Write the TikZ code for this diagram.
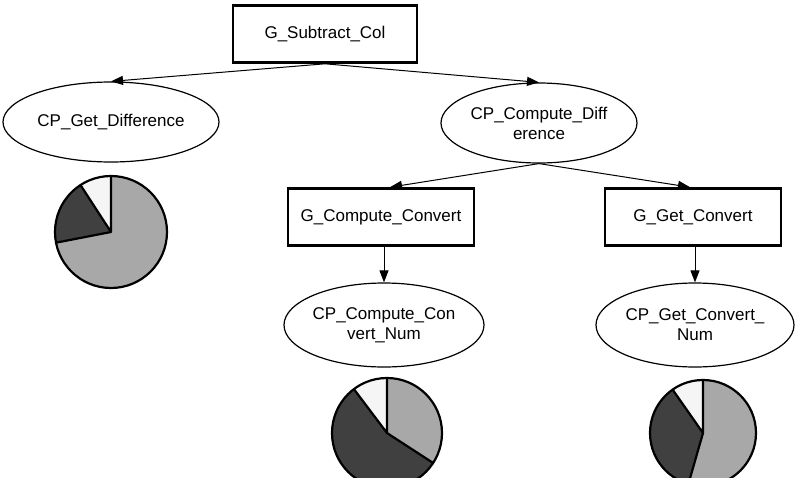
\documentclass[tikz,border=0pt]{standalone}
\usepackage{fontspec}
\setmainfont{Liberation Sans}
\usetikzlibrary{shapes.geometric,arrows.meta}
\definecolor{pielight}{rgb}{0.66,0.66,0.66}
\definecolor{piedark}{rgb}{0.25,0.25,0.25}
\definecolor{piewhite}{rgb}{0.96,0.96,0.96}

\begin{document}
\begin{tikzpicture}[x=1pt,y=1pt,yscale=-1,
  every node/.style={font=\fontsize{17}{20}\selectfont},
  gbox/.style={draw,line width=2.6pt,inner sep=0pt,minimum width=#1,minimum height=57pt},
  cp/.style={draw,ellipse,line width=1.2pt,inner sep=-25pt,align=center,minimum width=#1,minimum height=80pt},
  link/.style={line width=1pt,-{Triangle[length=12pt,width=9pt]}},
  pieline/.style={line width=2.2pt,line join=round}]
\useasboundingbox (0,0) rectangle (801,477);
\clip (0,0) rectangle (801,477);

% Goal boxes
\node[gbox=184pt] (sub) at (325,34) {G\_Subtract\_Col};
\node[gbox=186pt] (compconv) at (381,217) {G\_Compute\_Convert};
\node[gbox=176pt] (getconv) at (693,217) {G\_Get\_Convert};

% CP ellipses
\node[cp=216pt] (getdiff) at (111,122) {CP\_Get\_Difference};
\node[cp=196pt] (compdiff) at (539,123) {CP\_Compute\_Diff\\erence};
\node[cp=200pt,minimum height=84pt] (compnum) at (384,325) {CP\_Compute\_Con\\vert\_Num};
\node[cp=198pt,minimum height=84pt] (getnum) at (695,325) {CP\_Get\_Convert\_\\Num};

% Arrows
\draw[link] (sub.south) -- (getdiff.north);
\draw[link] (sub.south) -- (compdiff.north);
\draw[link] (compdiff.south) -- ([xshift=9pt]compconv.north);
\draw[link] (compdiff.south) -- ([xshift=-3pt]getconv.north);
\draw[link] (compnum.north |- compconv.south) -- (compnum.north);
\draw[link] (getnum.north |- getconv.south) -- (getnum.north);

% Pie under CP_Get_Difference
\begin{scope}[shift={(111,232)},yscale=-1]
\fill[pielight] (0,0) -- (191:56) arc[start angle=191,end angle=450,radius=56] -- cycle;
\fill[piedark] (0,0) -- (123:56) arc[start angle=123,end angle=191,radius=56] -- cycle;
\fill[piewhite] (0,0) -- (90:56) arc[start angle=90,end angle=123,radius=56] -- cycle;
\draw[pieline] (90:56) -- (0,0) -- (123:56) (0,0) -- (191:56);
\draw[pieline] (0,0) circle[radius=56];
\end{scope}

% Pie under CP_Compute_Convert_Num
\begin{scope}[shift={(387,433)},yscale=-1]
\fill[pielight] (0,0) -- (-33:55) arc[start angle=-33,end angle=90,radius=55] -- cycle;
\fill[piewhite] (0,0) -- (90:55) arc[start angle=90,end angle=127,radius=55] -- cycle;
\fill[piedark] (0,0) -- (127:55) arc[start angle=127,end angle=327,radius=55] -- cycle;
\draw[pieline] (90:55) -- (0,0) -- (127:55) (0,0) -- (-33:55);
\draw[pieline] (0,0) circle[radius=55];
\end{scope}

% Pie under CP_Get_Convert_Num
\begin{scope}[shift={(703,433)},yscale=-1]
\fill[pielight] (0,0) -- (254:53) arc[start angle=254,end angle=450,radius=53] -- cycle;
\fill[piewhite] (0,0) -- (90:53) arc[start angle=90,end angle=125,radius=53] -- cycle;
\fill[piedark] (0,0) -- (125:53) arc[start angle=125,end angle=254,radius=53] -- cycle;
\draw[pieline] (90:53) -- (0,0) -- (125:53) (0,0) -- (254:53);
\draw[pieline] (0,0) circle[radius=53];
\end{scope}
\end{tikzpicture}
\end{document}
